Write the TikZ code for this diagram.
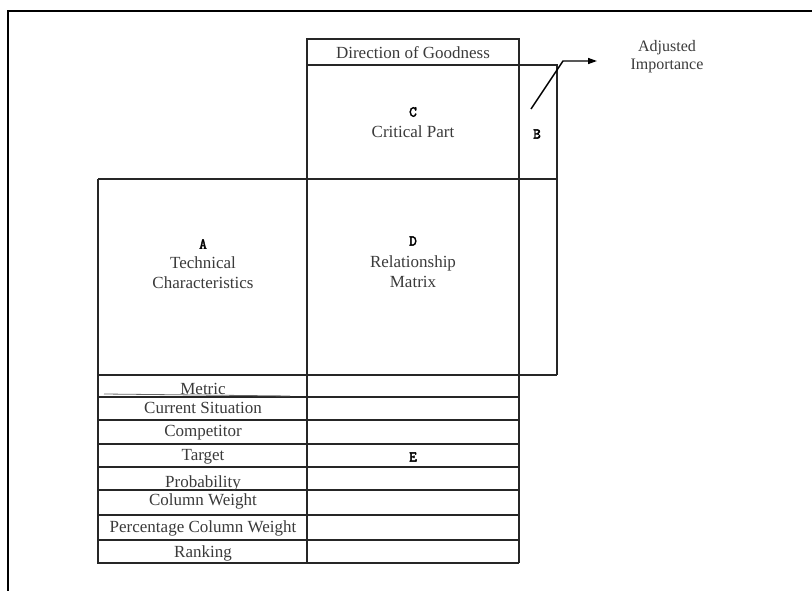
\documentclass[tikz,border=0pt]{standalone}
\usepackage{fontspec}
\setmainfont{Liberation Serif}
\newfontfamily\monob{Latin Modern Mono}[FakeBold=3]
\usetikzlibrary{arrows.meta}
\definecolor{ink}{HTML}{3A3A3A}
\definecolor{rule}{HTML}{262626}
\tikzset{
  lbl/.style={font=\fontsize{17}{20}\selectfont, text=ink, inner sep=0pt, align=center},
  letter/.style={font=\monob\fontsize{15}{15}\selectfont, text=black, inner sep=0pt},
  grid/.style={draw=rule, line width=1.8pt},
  frame/.style={draw=black, line width=2pt},
  arr/.style={draw=black, line width=1.4pt, -{Triangle[length=9pt,width=6pt]}}
}
\begin{document}
\begin{tikzpicture}[x=1pt,y=-1pt]
\useasboundingbox (0,0) rectangle (812,591);
% outer frame (open at right and bottom)
\draw[frame] (8,591) -- (8,11) -- (812,11);
% top part
\draw[grid] (307,65) -- (307,39) -- (519,39) -- (519,65);
\draw[grid] (307,65) -- (557,65) -- (557,375);
\draw[grid] (98,179) -- (557,179);
\draw[grid] (98,179) -- (98,563) -- (519,563);
\draw[grid] (307,65) -- (307,563);
\draw[grid] (519,65) -- (519,563);
\draw[grid] (98,375) -- (557,375);
% table rows
\foreach \y in {397,420,444,467,490,515,540}
  \draw[grid] (98,\y) -- (519,\y);
\draw[draw=rule!70, line width=0.8pt] (104,394) -- (290,396);
% texts
\node[lbl] (dog) at (413,53) {Direction of Goodness};
\node[letter] (C) at (413,112) {C};
\node[lbl] (cp) at (413,132) {Critical Part};
\node[letter] (B) at (537,134) {B};
\node[letter] (A) at (203,244) {A};
\node[lbl] (tc) at (203,273) {Technical\\Characteristics};
\node[letter] (D) at (413,241) {D};
\node[lbl] (rm) at (413,272) {Relationship\\Matrix};
\node[letter] (E) at (413,457) {E};
\node[lbl] (r1) at (203,389) {Metric};
\node[lbl] (r2) at (203,408) {Current Situation};
\node[lbl] (r3) at (203,433) {Competitor};
\node[lbl] (r4) at (203,457) {Target};
\node[lbl] (r5) at (203,483) {Probability};
\node[lbl] (r6) at (203,501) {Column Weight};
\node[lbl] (r7) at (203,528) {Percentage Column Weight};
\node[lbl] (r8) at (203,553) {Ranking};
\node[lbl, font=\fontsize{16}{18}\selectfont] (adj) at (667,57) {Adjusted\\Importance};
% arrow
\coordinate (a1) at (531,109);
\coordinate (a2) at (563,61);
\coordinate (a3) at (597,61);
\draw[arr] (a1) -- (a2) -- (a3);
\end{tikzpicture}
\end{document}
